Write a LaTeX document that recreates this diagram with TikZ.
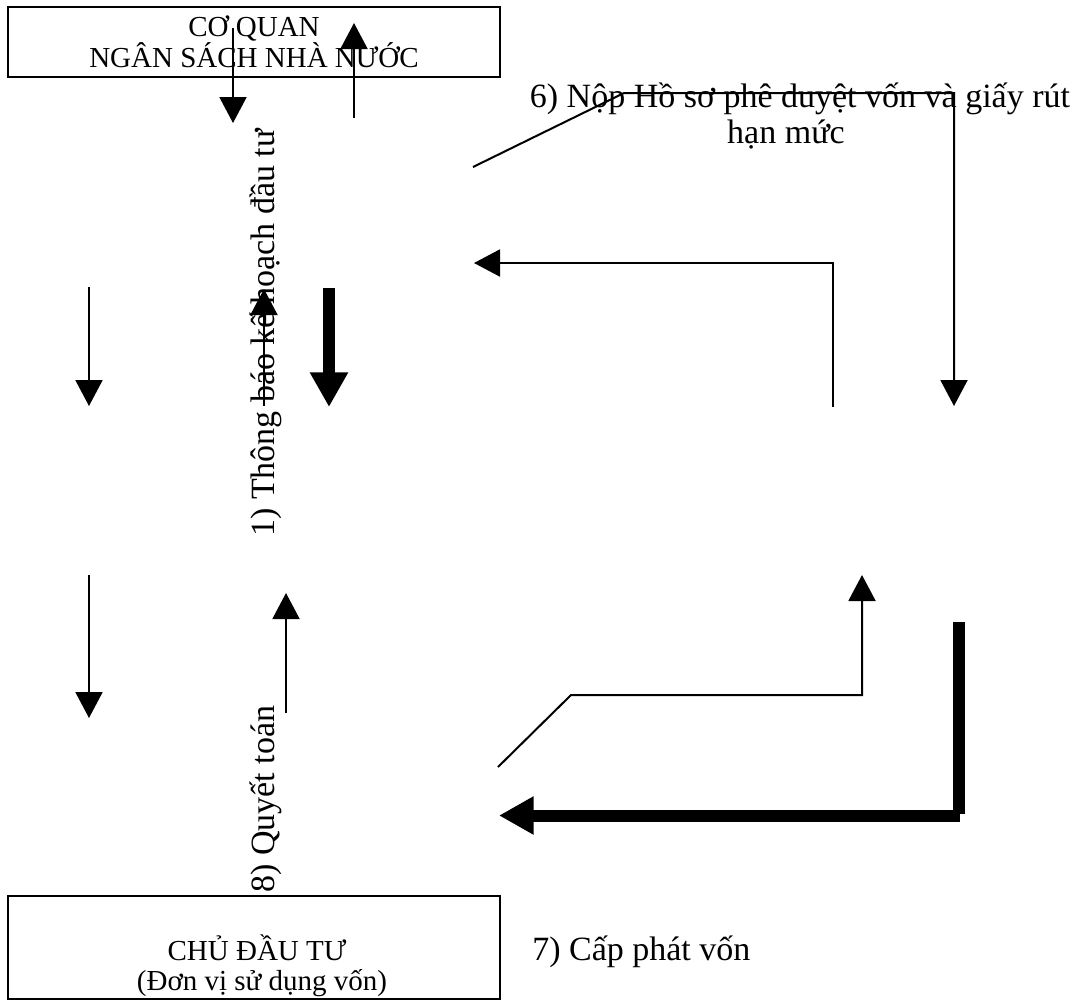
\documentclass[tikz,border=0pt]{standalone}
\usepackage{fontspec}
\setmainfont{Liberation Serif}
\usetikzlibrary{arrows.meta}
\begin{document}
\begin{tikzpicture}[x=0.75pt,y=-0.75pt,
  box/.style={draw, line width=1.5pt, minimum width=369pt, inner sep=0pt},
  boxtext/.style={font=\fontsize{21.75}{24}\selectfont, inner sep=0pt},
  lbl/.style={font=\fontsize{25.5}{30}\selectfont, inner sep=0pt},
  thinarrow/.style={line width=1.5pt, -{Triangle[length=19.5pt,width=20.25pt]}},
  thickarrow/.style={line width=9pt, -{Triangle[length=26pt,width=27pt]}},
  plainline/.style={line width=1.5pt},
  thickline/.style={line width=9pt},
]
\useasboundingbox (0,0) rectangle (1075,1001);

% boxes
\node[box, minimum height=52.5pt] (nsnn) at (254,42) {};
\node[box, minimum height=77.25pt] (cdt) at (254,947.5) {};

% box texts
\node[boxtext, anchor=base] (t1) at (254,36) {CƠ QUAN};
\node[boxtext, anchor=base] (t2) at (254,67) {NGÂN SÁCH NHÀ NƯỚC};
\node[boxtext, anchor=base] (t3) at (257,960) {CHỦ ĐẦU TƯ};
\node[boxtext, anchor=base] (t4) at (262,990) {(Đơn vị sử dụng vốn)};

% labels
\node[lbl, anchor=base] (l6a) at (800,107) {6) Nộp Hồ sơ phê duyệt vốn và giấy rút};
\node[lbl, anchor=base] (l6b) at (786,143) {hạn mức};
\node[lbl, anchor=base west] (l7) at (532,960) {7) Cấp phát vốn};
\node[lbl, rotate=90, anchor=base west] (l1) at (274,537) {1) Thông báo kế hoạch đầu tư};
\node[lbl, rotate=90, anchor=base west] (l8) at (274,893) {8) Quyết toán};

% coordinates
\coordinate (a1s) at (233,28);  \coordinate (a1e) at (233,123);
\coordinate (a2s) at (354,118); \coordinate (a2e) at (354,23);
\coordinate (a3s) at (473,167); \coordinate (a3b) at (624,93); \coordinate (a3c) at (954,93); \coordinate (a3e) at (954,406);
\coordinate (a4s) at (833,407); \coordinate (a4b) at (833,263); \coordinate (a4e) at (474,263);
\coordinate (a5s) at (89,287);  \coordinate (a5e) at (89,406);
\coordinate (a6s) at (264,406); \coordinate (a6e) at (264,289);
\coordinate (a7s) at (329,288); \coordinate (a7e) at (329,407);
\coordinate (a8s) at (89,575);  \coordinate (a8e) at (89,718);
\coordinate (a9s) at (286,713); \coordinate (a9e) at (286,593);
\coordinate (a10s) at (498,767); \coordinate (a10b) at (571,695); \coordinate (a10c) at (862,695); \coordinate (a10e) at (862,575);
\coordinate (a11s) at (959,622); \coordinate (a11b) at (959,814);
\coordinate (a11c) at (960,815.5); \coordinate (a11e) at (499,815.5);

% connectors
\draw[thinarrow] (a1s) -- (a1e);
\draw[thinarrow] (a2s) -- (a2e);
\draw[thinarrow] (a3s) -- (a3b) -- (a3c) -- (a3e);
\draw[thinarrow] (a4s) -- (a4b) -- (a4e);
\draw[thinarrow] (a5s) -- (a5e);
\draw[thinarrow] (a6s) -- (a6e);
\draw[thickarrow] (a7s) -- (a7e);
\draw[thinarrow] (a8s) -- (a8e);
\draw[thinarrow] (a9s) -- (a9e);
\draw[thinarrow] (a10s) -- (a10b) -- (a10c) -- (a10e);
\draw[thickline] (a11s) -- (a11b);
\draw[thickarrow] (a11c) -- (a11e);
\end{tikzpicture}
\end{document}
